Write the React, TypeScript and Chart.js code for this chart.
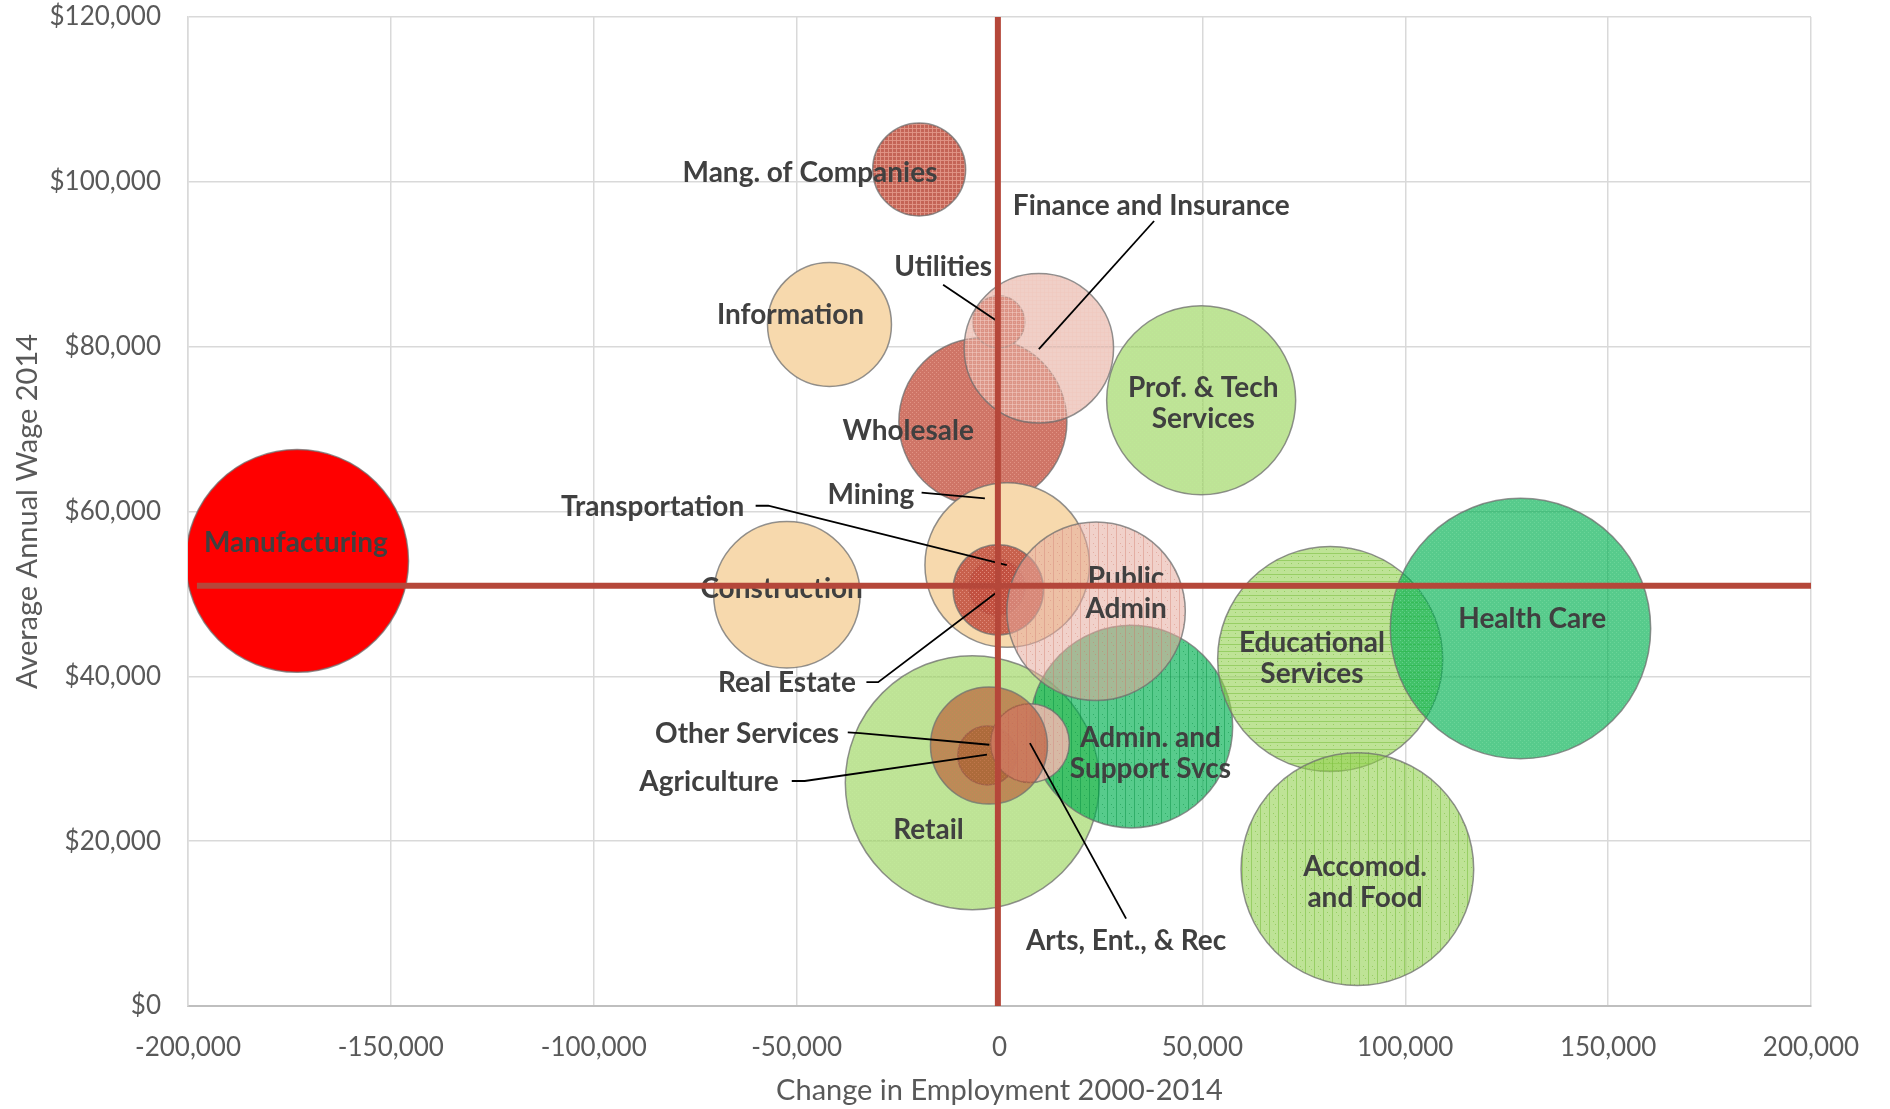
import React, { useEffect, useRef } from 'react';
import { Chart, registerables } from 'chart.js';

Chart.register(...registerables);

// ---------- data ----------
const industries = [
  'Manufacturing', 'Construction', 'Information', 'Mang. of Companies', 'Wholesale',
  'Utilities', 'Finance and Insurance', 'Prof. & Tech Services', 'Mining', 'Real Estate',
  'Transportation', 'Retail', 'Admin. and Support Svcs', 'Public Admin', 'Agriculture',
  'Arts, Ent., & Rec', 'Other Services', 'Educational Services', 'Health Care', 'Accomod. and Food',
];
// change in employment 2000-2014
const employmentChange = [
  -173100, -52400, -41900, -19800, -4100,
  -200, 9700, 49700, 1900, -600,
  -300, -6700, 32500, 23800, -3000,
  7500, -2600, 81500, 128400, 88200,
];
// average annual wage 2014
const avgWage = [
  54000, 49900, 82700, 101500, 70900,
  83000, 79800, 73500, 53500, 50800,
  50500, 27100, 33900, 47900, 30400,
  31900, 31600, 42100, 45800, 16600,
];
// bubble size (relative employment)
const bubbleSize = [
  12400, 5360, 3840, 2160, 7060,
  680, 5580, 8930, 6770, 780,
  2040, 16130, 10260, 7960, 870,
  1550, 3420, 12660, 16950, 13530,
];

const xTicks = [-200000, -150000, -100000, -50000, 0, 50000, 100000, 150000, 200000];
const yTicks = [0, 20000, 40000, 60000, 80000, 100000, 120000];

// reference lines: average wage (horizontal) and zero-change line (vertical)
const avgWageLineY = 51000;
const avgWageLineXRange = [-197800, 200000];
const changeLineX = -400;
const changeLineYRange = [0, 120000];

// data-label anchors (data coordinates)
const labelLines = [
  ['Manufacturing'], ['Construction'], ['Information'], ['Mang. of Companies'], ['Wholesale'],
  ['Utilities'], ['Finance and Insurance'], ['Prof. & Tech', 'Services'], ['Mining'], ['Real Estate'],
  ['Transportation'], ['Retail'], ['Admin. and', 'Support Svcs'], ['Public', 'Admin'], ['Agriculture'],
  ['Arts, Ent., & Rec'], ['Other Services'], ['Educational', 'Services'], ['Health Care'], ['Accomod.', 'and Food'],
];
const labelX = [
  -173400, -53700, -51500, -46700, -22500,
  -13900, 37400, 50200, -31700, -52400,
  -85500, -17500, 37200, 31200, -71600,
  31200, -62200, 77000, 131300, 90100,
];
const labelY = [
  56200, 50600, 83800, 101100, 69800,
  89700, 97100, 73100, 62000, 39200,
  60500, 21300, 30700, 50000, 27200,
  7900, 33000, 42200, 46900, 15000,
];
// leader lines (data coordinates), keyed by industry index
const leaderLines: { idx: number; pts: [number, number][] }[] = [
  { idx: 6, pts: [[38100, 95250], [9700, 79700]] },
  { idx: 5, pts: [[-13900, 87500], [-900, 83200]] },
  { idx: 8, pts: [[-19200, 62300], [-3600, 61600]] },
  { idx: 10, pts: [[-60100, 60700], [-57000, 60700], [1800, 53500]] },
  { idx: 9, pts: [[-32800, 39300], [-29900, 39300], [-900, 50100]] },
  { idx: 16, pts: [[-37400, 33200], [-34400, 33100], [-2500, 31700]] },
  { idx: 14, pts: [[-51200, 27300], [-48000, 27300], [-3100, 30500]] },
  { idx: 15, pts: [[31200, 10600], [7500, 31900]] },
];

// ---------- styles ----------
type PatternKind = 'solid' | 'dots' | 'grid' | 'vlines' | 'hlines';
const fillBase = [
  'rgb(255,0,0)', 'rgb(247,217,173)', 'rgb(247,217,173)', 'rgb(196,100,86)', 'rgba(200,98,82,0.88)',
  'rgb(205,110,95)', 'rgba(230,172,158,0.58)', 'rgba(146,208,80,0.6)', 'rgb(247,217,173)', 'rgb(196,88,72)',
  'rgba(194,80,64,0.88)', 'rgba(146,208,80,0.6)', 'rgba(0,176,80,0.66)', 'rgba(230,172,158,0.55)', 'rgba(130,85,30,0.55)',
  'rgba(232,184,172,0.9)', 'rgba(185,80,45,0.6)', 'rgba(146,208,80,0.6)', 'rgba(0,176,80,0.66)', 'rgba(146,208,80,0.6)',
];
const fillMark = [
  '', '', '', 'rgba(225,150,135,0.9)', 'rgba(230,155,140,0.8)',
  'rgba(235,165,150,0.7)', 'rgba(240,200,190,0.6)', 'rgba(190,235,150,0.6)', '', 'rgba(230,150,135,0.8)',
  'rgba(230,150,135,0.8)', 'rgba(195,235,155,0.6)', 'rgba(0,140,60,0.45)', 'rgba(215,140,125,0.5)', '',
  'rgba(215,150,140,0.6)', 'rgba(210,125,90,0.5)', 'rgba(120,190,60,0.55)', 'rgba(120,220,160,0.6)', 'rgba(120,190,60,0.55)',
];
const fillKind: PatternKind[] = [
  'solid', 'solid', 'solid', 'grid', 'dots',
  'dots', 'grid', 'dots', 'solid', 'dots',
  'dots', 'dots', 'vlines', 'vlines', 'solid',
  'vlines', 'dots', 'hlines', 'dots', 'vlines',
];

const FONT = 'Lato, "Open Sans", sans-serif';
const RED_LINE = '#B5473A';

function makeFill(base: string, mark: string, kind: PatternKind): string | CanvasPattern {
  if (kind === 'solid') return base;
  const size = kind === 'vlines' ? 9 : kind === 'hlines' ? 7 : 4;
  const c = document.createElement('canvas');
  c.width = size;
  c.height = size;
  const g = c.getContext('2d')!;
  g.fillStyle = base;
  g.fillRect(0, 0, size, size);
  g.fillStyle = mark;
  if (kind === 'dots') {
    g.fillRect(0, 0, 1, 1);
    g.fillRect(2, 2, 1, 1);
  } else if (kind === 'grid') {
    g.fillRect(0, 0, size, 1);
    g.fillRect(0, 0, 1, size);
  } else if (kind === 'vlines') {
    g.fillRect(0, 0, 1, size);
    g.fillRect(4, 3, 1, 1);
    g.fillRect(6, 6, 1, 1);
  } else if (kind === 'hlines') {
    g.fillRect(0, 0, size, 1);
    g.fillRect(3, 3, 1, 1);
  }
  const p = g.createPattern(c, 'repeat');
  return p || base;
}

const overlayPlugin = {
  id: 'overlay',
  afterDatasetsDraw(chart: any) {
    const { ctx, chartArea } = chart;
    const xs = chart.scales.x;
    const ys = chart.scales.y;
    ctx.save();
    // leader lines
    ctx.strokeStyle = '#000000';
    ctx.lineWidth = 1.8;
    leaderLines.forEach((l) => {
      ctx.beginPath();
      l.pts.forEach(([vx, vy], k) => {
        const px = xs.getPixelForValue(vx);
        const py = ys.getPixelForValue(vy);
        if (k === 0) ctx.moveTo(px, py);
        else ctx.lineTo(px, py);
      });
      ctx.stroke();
    });
    // data labels
    ctx.fillStyle = '#404040';
    ctx.font = `bold 28px ${FONT}`;
    ctx.textAlign = 'center';
    ctx.textBaseline = 'middle';
    const lh = 31;
    labelLines.forEach((lines, i) => {
      const cx = xs.getPixelForValue(labelX[i]);
      const cy = ys.getPixelForValue(labelY[i]);
      const y0 = cy - ((lines.length - 1) * lh) / 2;
      lines.forEach((t, k) => ctx.fillText(t, cx, y0 + k * lh));
    });
    // reference lines
    ctx.strokeStyle = RED_LINE;
    ctx.lineWidth = 6;
    ctx.beginPath();
    ctx.moveTo(xs.getPixelForValue(changeLineX), ys.getPixelForValue(changeLineYRange[0]));
    ctx.lineTo(xs.getPixelForValue(changeLineX), ys.getPixelForValue(changeLineYRange[1]));
    ctx.stroke();
    ctx.beginPath();
    ctx.moveTo(xs.getPixelForValue(avgWageLineXRange[0]), ys.getPixelForValue(avgWageLineY));
    ctx.lineTo(xs.getPixelForValue(avgWageLineXRange[1]), ys.getPixelForValue(avgWageLineY));
    ctx.stroke();
    // axis titles
    ctx.fillStyle = '#595959';
    ctx.font = `29px ${FONT}`;
    ctx.textAlign = 'center';
    ctx.textBaseline = 'middle';
    ctx.fillText('Change in Employment 2000-2014', (chartArea.left + chartArea.right) / 2, 1091);
    ctx.translate(28, (chartArea.top + chartArea.bottom) / 2);
    ctx.rotate(-Math.PI / 2);
    ctx.fillText('Average Annual Wage 2014', 0, 0);
    ctx.restore();
  },
};

export default function App() {
  const ref = useRef<HTMLCanvasElement | null>(null);

  useEffect(() => {
    if (!ref.current) return;
    const fills = industries.map((_, i) => makeFill(fillBase[i], fillMark[i], fillKind[i]));
    const points = industries.map((_, i) => ({
      x: employmentChange[i],
      y: avgWage[i],
      r: Math.sqrt(bubbleSize[i]),
    }));
    const chart = new Chart(ref.current, {
      type: 'bubble',
      data: {
        datasets: [
          {
            label: 'Industries',
            data: points,
            backgroundColor: fills as any,
            borderColor: 'rgba(110,110,110,0.75)',
            borderWidth: 1.5,
            hoverRadius: 0,
          },
        ],
      },
      options: {
        responsive: false,
        animation: false,
        events: [],
        layout: { autoPadding: false, padding: { top: 17, right: 79, bottom: 0, left: 0 } },
        plugins: { legend: { display: false }, tooltip: { enabled: false } },
        scales: {
          x: {
            type: 'linear',
            min: -200000,
            max: 200000,
            afterBuildTicks: (s: any) => { s.ticks = xTicks.map((v) => ({ value: v })); },
            afterFit: (s: any) => {
              s.height = 103;
              s.paddingLeft = 0;
              s.paddingRight = 0;
            },
            ticks: {
              color: '#595959',
              font: { family: FONT, size: 26 },
              padding: 26,
              maxRotation: 0,
              callback: (v: any) => Number(v).toLocaleString('en-US'),
            },
            grid: { color: '#D9D9D9', lineWidth: 1.5, drawTicks: false },
            border: { color: '#BFBFBF', width: 2 },
          },
          y: {
            type: 'linear',
            min: 0,
            max: 120000,
            afterBuildTicks: (s: any) => { s.ticks = yTicks.map((v) => ({ value: v })); },
            afterFit: (s: any) => {
              s.width = 188;
              s.paddingTop = 0;
              s.paddingBottom = 0;
            },
            ticks: {
              color: '#595959',
              font: { family: FONT, size: 26 },
              padding: 27,
              callback: (v: any) => '$' + Number(v).toLocaleString('en-US'),
            },
            grid: { color: '#D9D9D9', lineWidth: 1.5, drawTicks: false },
            border: { color: '#D9D9D9', width: 1.5 },
          },
        },
      },
      plugins: [overlayPlugin],
    });
    return () => chart.destroy();
  }, []);

  return (
    <div style={{ position: 'absolute', left: 0, top: 0, width: 1890, height: 1109, background: '#ffffff' }}>
      <canvas ref={ref} width={1890} height={1109} style={{ width: 1890, height: 1109, display: 'block' }} />
    </div>
  );
}
